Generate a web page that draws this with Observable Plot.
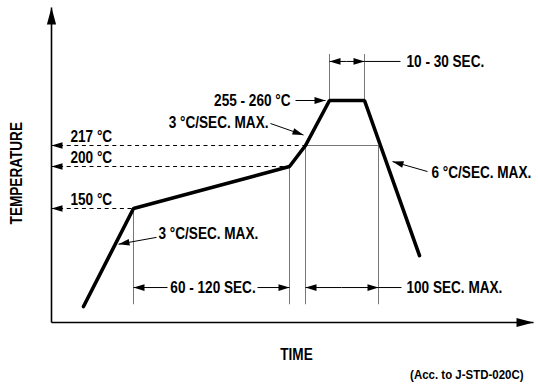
<!DOCTYPE html>
<html><head><meta charset="utf-8">
<script src="https://cdn.jsdelivr.net/npm/d3@7"></script>
<script src="https://cdn.jsdelivr.net/npm/@observablehq/plot@0.6"></script>
<style>
body{margin:0;background:#fff}
#chart svg{display:block}
</style></head><body><div id="chart"></div>
<script>
const FONT = '"Liberation Sans",Arial,sans-serif';

// Reflow profile: schematic time units, temperature in °C
const profileTime = [32, 82, 238, 254, 278, 313, 368];
const profileTemp = [21, 150, 200, 217, 260, 260, 88];

// Reference temperatures (dashed lines with labels)
const refTemps = [150, 200, 217];
const refLabels = ["150 °C", "200 °C", "217 °C"];
const refEndTime = [82, 238, 254];

// Thin vertical guide lines
const guideTime = [82, 238, 254, 327, 278, 313];
const guideFrom = [150, 200, 217, 217, 260, 260];
const guideTo   = [24, 24, 24, 24, 310, 310];

// Time above liquidus box top
const boxTop = [{t1: 254, t2: 327, T: 217}];

// Arrows: tail (t1,T1) -> tip (t2,T2)
const arrows = [
  {t1: 116, T1: 46, t2: 82, T2: 46},
  {t1: 206, T1: 46, t2: 238, T2: 46},
  {t1: 290, T1: 46, t2: 254, T2: 46},
  {t1: 290, T1: 46, t2: 327, T2: 46},
  {t1: 295, T1: 302, t2: 278, T2: 302},
  {t1: 295, T1: 302, t2: 313, T2: 302},
  {t1: 244, T1: 260, t2: 274, T2: 260},
  {t1: 219, T1: 238, t2: 252, T2: 227},
  {t1: 376, T1: 194, t2: 341, T2: 204},
  {t1: 105, T1: 112, t2: 67, T2: 103}
];
// Extension lines to labels
const extLines = [
  {t1: 327, T1: 46, t2: 350, T2: 46},
  {t1: 313, T1: 302, t2: 349, T2: 302}
];

// Annotation texts
const notesEnd = [
  {text: "255 - 260 °C", t: 239, T: 260},
  {text: "3 °C/SEC. MAX.", t: 217, T: 239}
];
const notesStart = [
  {text: "6 °C/SEC. MAX.", t: 380, T: 192},
  {text: "3 °C/SEC. MAX.", t: 107, T: 116},
  {text: "100 SEC. MAX.", t: 355, T: 46},
  {text: "10 - 30 SEC.", t: 355, T: 302}
];
const notesMiddle = [
  {text: "60 - 120 SEC.", t: 161.5, T: 46},
  {text: "TIME", t: 245, T: -42}
];
const yTitle = [{text: "TEMPERATURE", t: -35, T: 192}];
const caption = [{text: "(Acc. to J-STD-020C)", t: 472, T: -68}];

// Axes extents
const axisX = [{t1: 0, T1: 0, t2: 482, T2: 0}];
const axisY = [{t1: 0, T1: 0, t2: 0, T2: 360}];

// Schematic (non-linear) temperature axis: temperature -> drawing level
const tempKnots  = [0, 150, 200, 217, 260, 360];
const levelKnots = [0, 114, 156, 177, 222, 315];
const level = d3.scaleLinear().domain(tempKnots).range(levelKnots);

// Plot scales
const xDomain = [0, 482], xRange = [51, 533];
const yDomain = [0, 315], yRange = [322, 7];
const sx = d3.scaleLinear().domain(xDomain).range(xRange);
const sy = d3.scaleLinear().domain(yDomain).range(yRange);
const Y = T => level(T);

const headSymbol = (L, W) => ({draw(ctx) { ctx.moveTo(0, 0); ctx.lineTo(-L, -W); ctx.lineTo(-L, W); ctx.closePath(); }});
const smallHead = headSymbol(11, 3.4);
const bigHead = headSymbol(17, 4.6);

function heads(list) {
  return list.map(d => ({t: d.t2, T: d.T2,
    angle: Math.atan2(sy(Y(d.T2)) - sy(Y(d.T1)), sx(d.t2) - sx(d.t1)) * 180 / Math.PI}));
}
const refData = refTemps.map((T, i) => ({T, label: refLabels[i], t2: refEndTime[i]}));
const refHeads = heads(refData.map(d => ({t1: 10, T1: d.T, t2: 0, T2: d.T})));
const guides = guideTime.map((t, i) => ({t, T1: guideFrom[i], T2: guideTo[i]}));
const profile = profileTime.map((t, i) => ({t, T: profileTemp[i]}));

const txt = {fontFamily: FONT, fontWeight: "bold", fontSize: 16, fill: "black"};
const link = {x1: "t1", y1: d => Y(d.T1), x2: "t2", y2: d => Y(d.T2)};

const chart = Plot.plot({
  width: 538, height: 384, margin: 0,
  x: {domain: xDomain, range: xRange, axis: null},
  y: {domain: yDomain, range: yRange, axis: null},
  marks: [
    // dashed reference lines
    Plot.link(refData, {x1: 0, y1: d => Y(d.T), x2: "t2", y2: d => Y(d.T), stroke: "black", strokeWidth: 1, strokeDasharray: "4,3.6"}),
    Plot.dot(refHeads, {x: "t", y: d => Y(d.T), rotate: "angle", symbol: headSymbol(11, 3.2), r: 1, fill: "black", stroke: "none"}),
    // gray guides
    Plot.link(guides, {x1: "t", y1: d => Y(d.T1), x2: "t", y2: d => Y(d.T2), stroke: "#777", strokeWidth: 1}),
    Plot.link(boxTop, {x1: "t1", y1: d => Y(d.T), x2: "t2", y2: d => Y(d.T), stroke: "#777", strokeWidth: 1}),
    // arrows
    Plot.link(arrows, {...link, stroke: "black", strokeWidth: 1}),
    Plot.link(extLines, {...link, stroke: "black", strokeWidth: 1}),
    Plot.dot(heads(arrows), {x: "t", y: d => Y(d.T), rotate: "angle", symbol: smallHead, r: 1, fill: "black", stroke: "none"}),
    // axes
    Plot.link(axisX.concat(axisY), {...link, stroke: "black", strokeWidth: 1.6}),
    Plot.dot(heads(axisX.concat(axisY)), {x: "t", y: d => Y(d.T), rotate: "angle", symbol: bigHead, r: 1, fill: "black", stroke: "none"}),
    // profile
    Plot.line(profile, {x: "t", y: d => Y(d.T), stroke: "black", strokeWidth: 3.6, strokeLinejoin: "miter", curve: "linear"}),
    // labels
    Plot.text(refData, {x: 19, y: d => Y(d.T), text: "label", dy: -9, textAnchor: "start", ...txt}),
    Plot.text(notesEnd, {x: "t", y: d => Y(d.T), text: "text", textAnchor: "end", ...txt}),
    Plot.text(notesStart, {x: "t", y: d => Y(d.T), text: "text", textAnchor: "start", ...txt}),
    Plot.text(notesMiddle, {x: "t", y: d => Y(d.T), text: "text", textAnchor: "middle", ...txt}),
    Plot.text(yTitle, {x: "t", y: d => Y(d.T), text: "text", rotate: -90, textAnchor: "middle", ...txt}),
    Plot.text(caption, {x: "t", y: d => Y(d.T), text: "text", textAnchor: "end", ...txt, fontSize: 13.5})
  ]
});
document.getElementById("chart").append(chart);
// condense the bold face horizontally (about its anchor) to mimic the condensed typeface
chart.querySelectorAll("text").forEach(el => {
  let tr = el.getAttribute("transform") || "";
  const x = +(el.getAttribute("x") || 0), y = +(el.getAttribute("y") || 0);
  if (x || y) { el.removeAttribute("x"); el.removeAttribute("y"); tr = `${tr} translate(${x},${y})`; }
  el.setAttribute("transform", `${tr} scale(0.85,1)`);
});
</script>
</body></html>
